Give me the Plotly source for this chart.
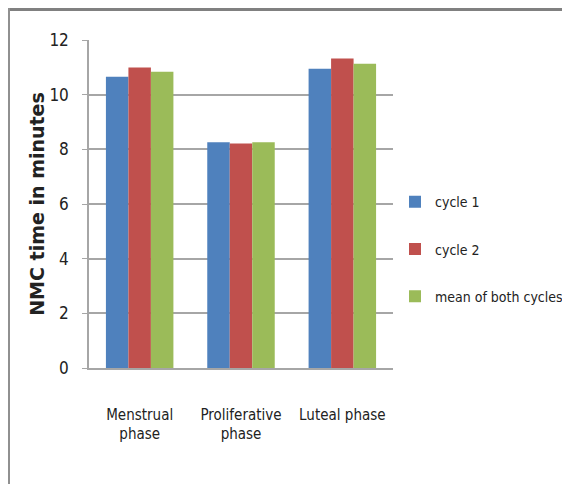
import plotly.graph_objects as go

categories = ["Menstrual<br>phase", "Proliferative<br>phase", "Luteal phase"]
cycle1 = [10.66, 8.26, 10.95]
cycle2 = [10.99, 8.21, 11.32]
mean_both = [10.84, 8.26, 11.13]
series_names = ["cycle 1", "cycle 2", "mean of both cycles"]
colors = ["#4F81BD", "#C0504D", "#9BBB59"]
y_ticks = [0, 2, 4, 6, 8, 10, 12]

fig = go.Figure()
for i, (name, vals) in enumerate(zip(series_names, [cycle1, cycle2, mean_both])):
    fig.add_trace(go.Bar(
        x=categories, y=vals, name=name, marker_color=colors[i],
        marker_line_width=0, legendgroup=f"g{i}",
    ))

# page body adds an 8px offset; figure is sized to fill the rest of the window
W, H = 562, 476
L, T, PW, PH = 81, 32, 304, 328
font_narrow = "DejaVu Sans Condensed, Liberation Sans Narrow, sans-serif"
fig.update_layout(
    width=W, height=H,
    margin=dict(l=L, r=W - L - PW, t=T, b=H - T - PH, autoexpand=False),
    paper_bgcolor="white", plot_bgcolor="white",
    barmode="group", bargap=0.334, bargroupgap=0,
    font=dict(family=font_narrow, size=15, color="#222222"),
    legend=dict(
        x=(387 - L) / PW, y=0.362, xanchor="left", yanchor="middle",
        font=dict(family=font_narrow, size=14, color="#222222"),
        tracegroupgap=26, itemwidth=30,
    ),
    yaxis=dict(
        range=[0, 12], tickvals=y_ticks, showgrid=True,
        gridcolor="#A6A6A6", gridwidth=1.5,
        showline=True, linecolor="#A6A6A6", linewidth=1.5,
        ticks="outside", ticklen=5, tickcolor="#A6A6A6",
        ticklabelstandoff=10,
        tickfont=dict(family=font_narrow, size=17, color="#222222"),
        title=dict(text="<b>NMC time in minutes</b>",
                   font=dict(family="DejaVu Sans, Verdana, sans-serif", size=19, color="#222222"),
                   standoff=0),
        zeroline=False,
    ),
    xaxis=dict(
        showline=True, linecolor="#A6A6A6", linewidth=1.5,
        ticks="", ticklabelstandoff=32, tickangle=0,
        tickfont=dict(family=font_narrow, size=15, color="#222222"),
    ),
    shapes=[
        dict(type="line", xref="paper", yref="paper",
             x0=(0 - L) / PW, x1=(W - L) / PW, y0=1 + (T - 1.5) / PH, y1=1 + (T - 1.5) / PH,
             line=dict(color="#808080", width=3)),
        dict(type="line", xref="paper", yref="paper",
             x0=(1 - L) / PW, x1=(1 - L) / PW, y0=1 + T / PH, y1=-(H - T - PH) / PH,
             line=dict(color="#909090", width=2)),
    ],
)
fig.write_html("out.html")
